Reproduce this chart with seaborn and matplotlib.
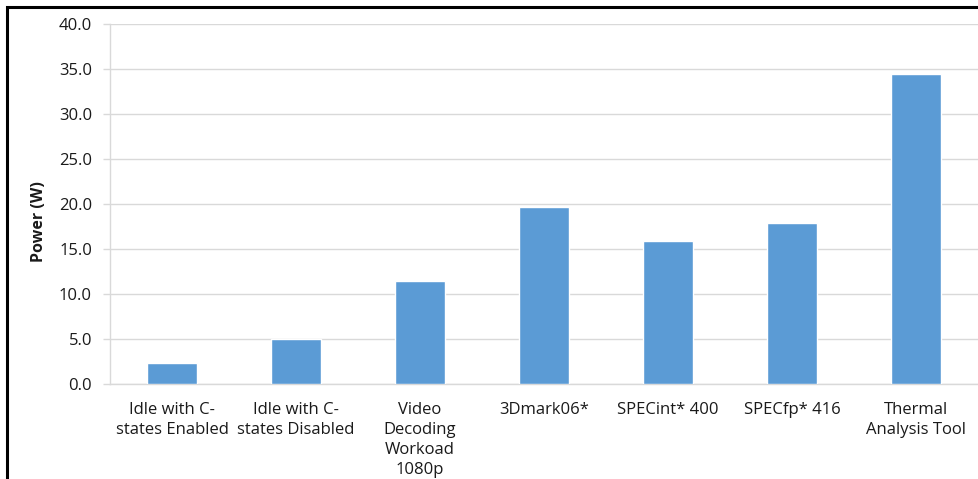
import matplotlib
matplotlib.use("Agg")
import matplotlib.pyplot as plt
import seaborn as sns
import pandas as pd
from matplotlib.patches import Rectangle

workloads = [
    "Idle with C-\nstates Enabled",
    "Idle with C-\nstates Disabled",
    "Video\nDecoding\nWorkoad\n1080p",
    "3Dmark06*",
    "SPECint* 400",
    "SPECfp* 416",
    "Thermal\nAnalysis Tool",
]
power_w = [2.3, 5.0, 11.4, 19.7, 15.9, 17.9, 34.4]
y_ticks = [0, 5, 10, 15, 20, 25, 30, 35, 40]

df = pd.DataFrame({"workload": workloads, "power": power_w})

sns.set_theme(style="white")
plt.rcParams["font.family"] = ["Open Sans", "DejaVu Sans"]

fig = plt.figure(figsize=(9.79, 4.79), dpi=100)
ax = fig.add_axes([110 / 979, 95 / 479, 868 / 979, 360 / 479])

sns.barplot(data=df, x="workload", y="power", color="#5B9BD5", width=0.4,
            saturation=1, ax=ax, zorder=3)

ax.set_ylim(0, 40)
ax.set_yticks(y_ticks)
ax.set_yticklabels([f"{v:.1f}" for v in y_ticks], fontsize=12, color="#1a1a1a")
ax.yaxis.grid(True, color="#D9D9D9", linewidth=1, zorder=0)
ax.set_axisbelow(True)

ax.set_xlabel("")
ax.set_ylabel("Power (W)", fontsize=11.5, fontweight="bold", color="#1a1a1a")
ax.yaxis.set_label_coords(-0.073, 0.45)
ax.tick_params(axis="x", labelsize=12, labelcolor="#1a1a1a", length=0, pad=13)
ax.tick_params(axis="y", length=5, color="#D9D9D9", width=1, pad=8, left=True)
for lbl in ax.get_xticklabels():
    lbl.set_linespacing(1.33)

for side in ["top", "right"]:
    ax.spines[side].set_visible(False)
for side in ["left", "bottom"]:
    ax.spines[side].set_color("#D9D9D9")
    ax.spines[side].set_linewidth(1)

# outer frame, running past the right and bottom edges
fig.patches.append(Rectangle((7 / 979, -0.1), 1.2, (479 - 7) / 479 + 0.1,
                             transform=fig.transFigure, fill=False,
                             edgecolor="black", linewidth=2.2, zorder=10))

fig.savefig("out.png", dpi=100)
